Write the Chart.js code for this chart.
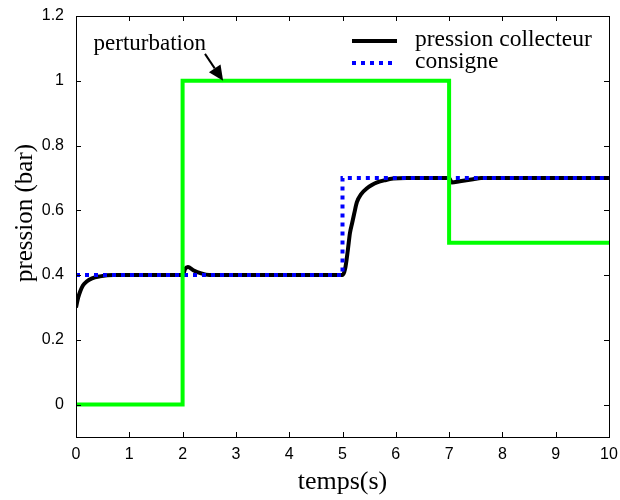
<!DOCTYPE html>
<html>
<head>
<meta charset="utf-8">
<script src="https://cdn.jsdelivr.net/npm/chart.js@4.4.1/dist/chart.umd.min.js"></script>
<style>
  body { margin: 0; background: #fff; }
  #wrap { width: 620px; height: 500px; }
</style>
</head>
<body>
<div id="wrap"><canvas id="chart"></canvas></div>
<script>
// ---- données ----
const perturbT = [0, 2, 2, 7, 7, 10];
const perturbV = [0, 0, 1, 1, 0.5, 0.5];

const consigneT = [0, 5, 5, 10];
const consigneV = [0.4, 0.4, 0.7, 0.7];

const pressionT = [0, 0.04, 0.08, 0.13, 0.2, 0.3, 0.45, 0.7, 2.0, 2.05, 2.1, 2.2, 2.35, 2.5,
  5.0, 5.05, 5.1, 5.14, 5.18, 5.22, 5.27, 5.35, 5.46, 5.55, 5.65, 5.8, 5.95, 6.2, 7.0, 7.05, 7.2, 7.45, 7.6, 10];
const pressionV = [0.30, 0.33, 0.35, 0.368, 0.38, 0.39, 0.396, 0.4, 0.4, 0.42, 0.425, 0.415, 0.405, 0.4,
  0.4, 0.42, 0.477, 0.53, 0.56, 0.59, 0.625, 0.65, 0.668, 0.678, 0.686, 0.693, 0.698, 0.7, 0.7, 0.686, 0.69, 0.696, 0.7, 0.7];

const xTicks = [0, 1, 2, 3, 4, 5, 6, 7, 8, 9, 10];
const yTicks = [0, 0.2, 0.4, 0.6, 0.8, 1, 1.2];

const annotText = 'perturbation';
const annotAt = [0.33, 1.095];
const arrowFrom = [2.42, 1.083];
const arrowTo = [2.76, 1.0];

const legendLabels = ['pression collecteur', 'consigne'];
const yTitle = 'pression (bar)';

const serif = '"Liberation Serif", "DejaVu Serif", serif';

function toPoints(ts, vs) {
  return ts.map((t, i) => ({ x: t, y: vs[i] }));
}

// ---- cadre + graduations internes (style matlab) ----
const framePlugin = {
  id: 'frame',
  afterDraw(chart) {
    const ctx = chart.ctx;
    const a = chart.chartArea;
    const xs = chart.scales.x;
    const ys = chart.scales.y;
    ctx.save();
    ctx.strokeStyle = '#000';
    ctx.lineWidth = 1;
    ctx.strokeRect(a.left + 0.5, a.top + 0.5, a.right - a.left, a.bottom - a.top);
    ctx.beginPath();
    xTicks.forEach(v => {
      const px = Math.round(xs.getPixelForValue(v)) + 0.5;
      ctx.moveTo(px, a.bottom); ctx.lineTo(px, a.bottom - 5);
      ctx.moveTo(px, a.top); ctx.lineTo(px, a.top + 5);
    });
    yTicks.forEach(v => {
      const py = Math.round(ys.getPixelForValue(v)) + 0.5;
      ctx.moveTo(a.left, py); ctx.lineTo(a.left + 5, py);
      ctx.moveTo(a.right, py); ctx.lineTo(a.right - 5, py);
    });
    ctx.stroke();

    // titre axe y (décalé comme l'original)
    ctx.fillStyle = '#000';
    ctx.save();
    ctx.translate(32, 213);
    ctx.rotate(-Math.PI / 2);
    ctx.font = '25px ' + serif;
    ctx.textAlign = 'center';
    ctx.textBaseline = 'alphabetic';
    ctx.fillText(yTitle, 0, 0);
    ctx.restore();

    // annotation "perturbation" + flèche
    ctx.font = '23px ' + serif;
    ctx.textBaseline = 'alphabetic';
    ctx.textAlign = 'left';
    ctx.fillText(annotText, xs.getPixelForValue(annotAt[0]), ys.getPixelForValue(annotAt[1]));

    const x0 = xs.getPixelForValue(arrowFrom[0]), y0 = ys.getPixelForValue(arrowFrom[1]);
    const x1 = xs.getPixelForValue(arrowTo[0]), y1 = ys.getPixelForValue(arrowTo[1]);
    const ang = Math.atan2(y1 - y0, x1 - x0);
    const hl = 15, hw = 7;
    const bx = x1 - hl * Math.cos(ang), by = y1 - hl * Math.sin(ang);
    ctx.lineWidth = 2;
    ctx.beginPath();
    ctx.moveTo(x0, y0); ctx.lineTo(bx, by);
    ctx.stroke();
    ctx.beginPath();
    ctx.moveTo(x1, y1);
    ctx.lineTo(bx + hw * Math.sin(ang), by - hw * Math.cos(ang));
    ctx.lineTo(bx - hw * Math.sin(ang), by + hw * Math.cos(ang));
    ctx.closePath();
    ctx.fill();

    // légende
    const lx0 = 352, lx1 = 397, tx = 415;
    const rows = [41, 63];
    const ds = [chart.data.datasets[2], chart.data.datasets[1]];
    ctx.font = '23.5px ' + serif;
    rows.forEach((ry, i) => {
      ctx.beginPath();
      ctx.strokeStyle = ds[i].borderColor;
      ctx.lineWidth = ds[i].borderWidth;
      ctx.setLineDash(ds[i].borderDash || []);
      ctx.moveTo(lx0, ry); ctx.lineTo(lx1, ry);
      ctx.stroke();
      ctx.setLineDash([]);
      ctx.fillText(legendLabels[i], tx, ry + 5);
    });
    ctx.restore();
  }
};

new Chart(document.getElementById('chart').getContext('2d'), {
  type: 'line',
  data: {
    datasets: [
      {
        label: 'perturbation',
        data: toPoints(perturbT, perturbV),
        borderColor: '#00ff00',
        borderWidth: 4,
        pointRadius: 0,
        order: 0
      },
      {
        label: legendLabels[1],
        data: toPoints(consigneT, consigneV),
        borderColor: '#0000ff',
        borderWidth: 4,
        borderDash: [4, 5],
        borderCapStyle: 'butt',
        pointRadius: 0,
        order: 1
      },
      {
        label: legendLabels[0],
        data: toPoints(pressionT, pressionV),
        borderColor: '#000000',
        borderWidth: 4,
        cubicInterpolationMode: 'monotone',
        pointRadius: 0,
        order: 2
      }
    ]
  },
  options: {
    responsive: true,
    maintainAspectRatio: false,
    animation: false,
    layout: { padding: { top: 16, right: 11, left: 0, bottom: 0 } },
    plugins: {
      legend: { display: false },
      tooltip: { enabled: false }
    },
    scales: {
      x: {
        type: 'linear',
        min: 0,
        max: 10,
        afterBuildTicks: s => { s.ticks = xTicks.map(v => ({ value: v })); },
        afterFit: s => { s.height = 63; },
        grid: { display: false },
        border: { display: false },
        ticks: {
          color: '#000',
          padding: 0,
          maxRotation: 0,
          font: { family: '"Liberation Sans", Arial, sans-serif', size: 16 }
        },
        title: {
          display: true,
          text: 'temps(s)',
          color: '#000',
          padding: { top: 0, bottom: 2 },
          font: { family: serif, size: 26 }
        }
      },
      y: {
        type: 'linear',
        min: -0.1,
        max: 1.2,
        afterBuildTicks: s => { s.ticks = yTicks.map(v => ({ value: v })); },
        afterFit: s => { s.width = 76; },
        grid: { display: false },
        border: { display: false },
        ticks: {
          color: '#000',
          padding: 4,
          font: { family: '"Liberation Sans", Arial, sans-serif', size: 16 },
          callback: v => String(v)
        },
        title: { display: false }
      }
    }
  },
  plugins: [framePlugin]
});
</script>
</body>
</html>
